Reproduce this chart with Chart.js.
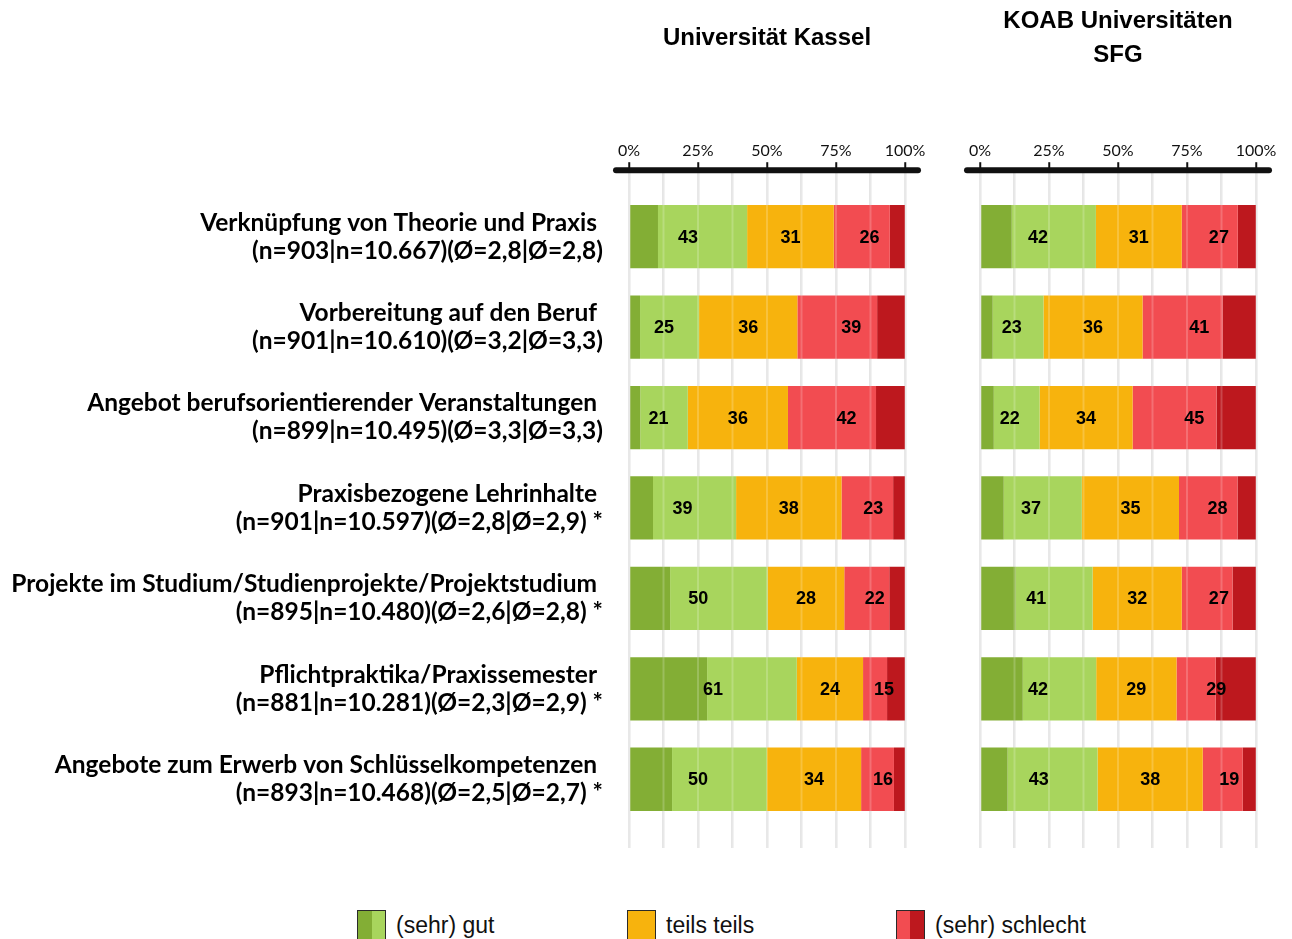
<!DOCTYPE html>
<html>
<head>
<meta charset="utf-8">
<script src="https://cdn.jsdelivr.net/npm/chart.js@4.4.1/dist/chart.umd.min.js"></script>
<style>
  html, body { margin: 0; padding: 0; background: #fff; }
  body { width: 1292px; height: 939px; position: relative; overflow: hidden; }
  #wrapA { position: absolute; left: 0; top: 0; width: 935px; height: 902px; }
  #wrapB { position: absolute; left: 940px; top: 0; width: 352px; height: 880px; }
  .leg { position: absolute; top: 910px; height: 30px; display: flex; align-items: center;
         font-family: "Liberation Sans", Arial, sans-serif; font-size: 23px; color: #111; }
  .leg .box { width: 27px; height: 28px; border: 1.5px solid #2a2a2a; margin-right: 10px; }
</style>
</head>
<body>
<div id="wrapA"><canvas id="chartA"></canvas></div>
<div id="wrapB"><canvas id="chartB"></canvas></div>
<div class="leg" style="left:357px"><div class="box" style="background:linear-gradient(to right,#83ae35 50%,#a8d55d 50%)"></div>(sehr) gut</div>
<div class="leg" style="left:627px"><div class="box" style="background:#f7b30d"></div>teils teils</div>
<div class="leg" style="left:896px"><div class="box" style="background:linear-gradient(to right,#f24c51 50%,#bd181e 50%)"></div>(sehr) schlecht</div>

<script>
// --- DATA ---
const categories = [
    ['Verknüpfung von Theorie und Praxis ', '(n=903|n=10.667)(Ø=2,8|Ø=2,8)'],
    ['Vorbereitung auf den Beruf ', '(n=901|n=10.610)(Ø=3,2|Ø=3,3)'],
    ['Angebot berufsorientierender Veranstaltungen ', '(n=899|n=10.495)(Ø=3,3|Ø=3,3)'],
    ['Praxisbezogene Lehrinhalte ', '(n=901|n=10.597)(Ø=2,8|Ø=2,9) *'],
    ['Projekte im Studium/Studienprojekte/Projektstudium ', '(n=895|n=10.480)(Ø=2,6|Ø=2,8) *'],
    ['Pflichtpraktika/Praxissemester ', '(n=881|n=10.281)(Ø=2,3|Ø=2,9) *'],
    ['Angebote zum Erwerb von Schlüsselkompetenzen ', '(n=893|n=10.468)(Ø=2,5|Ø=2,7) *']
];
const seriesNames = ['sehr gut', 'gut', 'teils teils', 'schlecht', 'sehr schlecht'];
const titleKassel = 'Universität Kassel';
const titleKoab = ['KOAB Universitäten', 'SFG'];
const tickLabels = ['0%', '25%', '50%', '75%', '100%'];

// Universität Kassel (percent)
const kasselSehrGut   = [10.5, 4.0, 4.1, 8.7, 14.9, 28.3, 15.6];
const kasselGut       = [32.3, 21.4, 17.2, 30.1, 35.3, 32.5, 34.4];
const kasselTeils     = [31.4, 35.6, 36.3, 38.2, 27.8, 24.0, 34.1];
const kasselSchlecht  = [20.3, 28.9, 31.9, 18.7, 16.3, 8.7, 11.9];
const kasselSehrSchl  = [5.5, 10.1, 10.5, 4.3, 5.7, 6.5, 4.0];

// KOAB Universitäten SFG (percent)
const koabSehrGut     = [11.5, 4.6, 5.0, 8.6, 12.9, 15.5, 10.0];
const koabGut         = [30.5, 18.4, 16.6, 28.3, 27.9, 26.6, 32.6];
const koabTeils       = [31.1, 35.9, 33.7, 35.2, 32.3, 29.1, 38.1];
const koabSchlecht    = [20.3, 29.0, 30.4, 21.2, 18.4, 14.2, 14.5];
const koabSehrSchl    = [6.6, 12.1, 14.3, 6.7, 8.5, 14.6, 4.8];

const colors = ['#83ae35', '#a8d55d', '#f7b30d', '#f24c51', '#bd181e'];

// --- HELPERS ---
function makeDatasets(rows) {
    return rows.map((vals, k) => ({
        label: seriesNames[k],
        data: vals.map((v, i) => ({ x: v, y: i })),
        backgroundColor: colors[k],
        borderWidth: 0,
        barPercentage: 0.7,
        categoryPercentage: 1
    }));
}

// faint light streaks of the gridlines running over the bars
const gridSheen = {
    id: 'gridSheen',
    afterDatasetsDraw(chart) {
        const xs = chart.scales.x, a = chart.chartArea, ctx = chart.ctx;
        ctx.save();
        ctx.strokeStyle = 'rgba(255,255,255,0.2)';
        ctx.lineWidth = 2;
        xs.ticks.forEach(t => {
            const px = xs.getPixelForValue(t.value);
            ctx.beginPath();
            ctx.moveTo(px, a.top);
            ctx.lineTo(px, a.bottom);
            ctx.stroke();
        });
        ctx.restore();
    }
};

// combined labels: (sehr) gut | teils teils | (sehr) schlecht, centred on each group
const groupLabels = {
    id: 'groupLabels',
    afterDraw(chart, args, opts) {
        const rows = opts.rows;
        const xs = chart.scales.x, ys = chart.scales.y;
        const ctx = chart.ctx;
        ctx.save();
        ctx.font = 'bold 18px "Liberation Sans", Arial, sans-serif';
        ctx.fillStyle = '#000';
        ctx.textAlign = 'center';
        ctx.textBaseline = 'middle';
        for (let i = 0; i < categories.length; i++) {
            const groups = [rows[0][i] + rows[1][i], rows[2][i], rows[3][i] + rows[4][i]];
            let start = 0;
            groups.forEach(g => {
                const cx = xs.getPixelForValue(start + g / 2);
                ctx.fillText(String(Math.round(g)), cx, ys.getPixelForValue(i) + 1);
                start += g;
            });
        }
        ctx.restore();
    }
};

// thick rounded axis line on top
const topAxisLine = {
    id: 'topAxisLine',
    afterDraw(chart) {
        const a = chart.chartArea, ctx = chart.ctx;
        ctx.save();
        ctx.strokeStyle = '#111';
        ctx.lineWidth = 6;
        ctx.lineCap = 'round';
        ctx.beginPath();
        ctx.moveTo(a.left - 13, a.top);
        ctx.lineTo(a.right + 13, a.top);
        ctx.stroke();
        ctx.restore();
    }
};

function makeOptions(rows, title, titlePad, showY, padding) {
    return {
        indexAxis: 'y',
        responsive: true,
        maintainAspectRatio: false,
        animation: false,
        layout: { padding: padding },
        plugins: {
            legend: { display: false },
            tooltip: { enabled: false },
            title: {
                display: true,
                text: title,
                fullSize: false,
                color: '#000',
                font: { family: '"Liberation Sans", Arial, sans-serif', size: 24, weight: 'bold', lineHeight: 34 / 24 },
                padding: titlePad
            },
            groupLabels: { rows: rows }
        },
        scales: {
            x: {
                position: 'top',
                stacked: true,
                min: 0,
                max: 100,
                border: { display: false },
                grid: {
                    color: '#e3e3e3',
                    lineWidth: 2.5,
                    tickLength: 8,
                    tickWidth: 2,
                    tickColor: ctx => (ctx.tick && ctx.tick.value % 25 === 0) ? '#111' : 'rgba(0,0,0,0)'
                },
                ticks: {
                    stepSize: 12.5,
                    autoSkip: false,
                    maxRotation: 0,
                    padding: 2,
                    color: '#111',
                    font: { family: 'Lato, sans-serif', size: 16 },
                    callback: v => v % 25 === 0 ? tickLabels[v / 25] : ''
                }
            },
            y: {
                type: 'linear',
                stacked: true,
                reverse: true,
                offset: false,
                min: -0.735,
                max: 6.76,
                display: showY,
                border: { display: false },
                grid: { display: false, drawTicks: false, offset: false },
                afterFit: showY ? (s => { s.width = 629; }) : undefined,
                ticks: {
                    stepSize: 1,
                    includeBounds: false,
                    autoSkip: false,
                    padding: 26,
                    color: '#000',
                    font: { family: 'Lato, sans-serif', size: 24.5, weight: 'bold', lineHeight: 28 / 24.5 },
                    callback: v => Number.isInteger(v) ? categories[v] : ''
                }
            }
        }
    };
}

const rowsKassel = [kasselSehrGut, kasselGut, kasselTeils, kasselSchlecht, kasselSehrSchl];
const rowsKoab = [koabSehrGut, koabGut, koabTeils, koabSchlecht, koabSehrSchl];

new Chart(document.getElementById('chartA'), {
    type: 'bar',
    data: { datasets: makeDatasets(rowsKassel) },
    options: makeOptions(rowsKassel, titleKassel, { top: 21, bottom: 84 }, true,
        { left: 0, right: 30, top: 0, bottom: 32 }),
    plugins: [gridSheen, groupLabels, topAxisLine]
});

new Chart(document.getElementById('chartB'), {
    type: 'bar',
    data: { datasets: makeDatasets(rowsKoab) },
    options: makeOptions(rowsKoab, titleKoab, { top: 4, bottom: 67 }, false,
        { left: 40, right: 36, top: 0, bottom: 32 }),
    plugins: [gridSheen, groupLabels, topAxisLine]
});
</script>
</body>
</html>
